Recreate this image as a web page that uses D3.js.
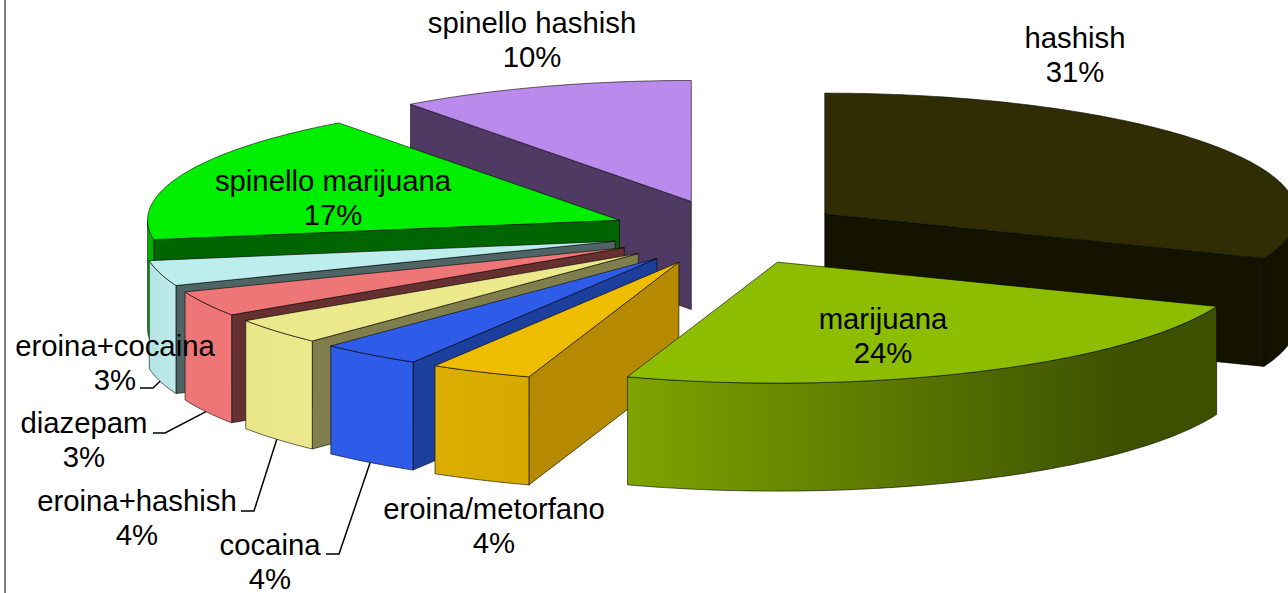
<!DOCTYPE html>
<html>
<head>
<meta charset="utf-8">
<script src="https://cdn.jsdelivr.net/npm/d3@7"></script>
<style>
  html, body { margin: 0; padding: 0; background: #fff; overflow: hidden; }
  text { font-family: "Liberation Sans", Arial, sans-serif; font-size: 29.3px; fill: #000; text-anchor: middle; }
</style>
</head>
<body>
<div id="chart"></div>
<script>
// shares, the printed labels are these values rounded
const categories = ["hashish", "marijuana", "eroina/metorfano", "cocaina", "eroina+hashish", "diazepam", "eroina+cocaina", "spinello marijuana", "spinello hashish"];
const values = [31.0, 24.2, 3.5, 3.5, 3.5, 3.4, 3.4, 17.45, 10.15];

const topColors = ["#302c04", "#8cbd00", "#eebd00", "#2e5ce8", "#ece98c", "#ee7676", "#beeded", "#00ee00", "#ba8aec"];
const radialColors = ["#131300", "#3d5000", "#b68a00", "#1c3f9e", "#807e4c", "#653030", "#4f6565", "#006400", "#4f3a63"];
const outerLeftColors = ["#131300", "#7da400", "#dbae00", "#2e5ce8", "#e9e688", "#ee7676", "#b5e2e2", "#00b000", "#4f3a63"];
const outerRightColors = ["#131300", "#3d5000", "#d6aa00", "#2e5ce8", "#ece98c", "#ee7676", "#bce9e9", "#00b000", "#4f3a63"];

const width = 1288, height = 593;
const cx = 728, cy = 232.5, rx = 472, ry = 121, depth = 108;
const explodeX = 0.248, explodeY = 0.27;

// label centre and baseline of the first line, leader stub given from the label
const labelLayout = {
  "hashish": { x: 1075, y: 48 },
  "marijuana": { x: 883, y: 329 },
  "eroina/metorfano": { x: 494, y: 519 },
  "cocaina": { x: 270, y: 555, stub: [[326, 554], [339, 554]] },
  "eroina+hashish": { x: 137, y: 511, stub: [[241, 511], [254, 511]] },
  "diazepam": { x: 84, y: 433, stub: [[153, 433], [165, 433]] },
  "eroina+cocaina": { x: 115, y: 356, stub: [[140, 388], [153, 388]] },
  "spinello marijuana": { x: 333, y: 191 },
  "spinello hashish": { x: 532, y: 33 }
};
const lineHeight = 33.5;

const x = d3.scaleLinear().domain([-1, 1]).range([cx - rx, cx + rx]);
const y = d3.scaleLinear().domain([-1, 1]).range([cy - ry, cy + ry]);

const pie = d3.pie().sort(null).value(d => d.value);
const slices = pie(categories.map((name, i) => ({ name, value: values[i], i })));

const line = d3.line();

function apex(d) {
  const mid = (d.startAngle + d.endAngle) / 2;
  return [x(explodeX * Math.sin(mid)), y(-explodeY * Math.cos(mid))];
}

// point on the rim of a slice, angle clockwise from 12 o'clock
function rim(d, a) {
  const p = apex(d);
  return [p[0] + x(Math.sin(a)) - cx, p[1] + y(-Math.cos(a)) - cy];
}

function rimPoints(d, a0, a1) {
  const n = Math.max(2, Math.ceil((a1 - a0) * 60));
  return d3.range(n + 1).map(k => rim(d, a0 + (a1 - a0) * k / n));
}

const down = pts => pts.map(p => [p[0], p[1] + depth]);

const svg = d3.select("#chart").append("svg")
  .attr("width", width)
  .attr("height", height)
  .style("display", "block");

// frame of the original picture, only the left side shows
svg.append("line")
  .attr("x1", 5).attr("x2", 5)
  .attr("y1", 0).attr("y2", height)
  .attr("stroke", "#555")
  .attr("stroke-width", 1.5);

const defs = svg.append("defs");
slices.forEach(d => {
  const grad = defs.append("linearGradient").attr("id", "wall" + d.data.i);
  grad.append("stop").attr("offset", "0%").attr("stop-color", outerLeftColors[d.data.i]);
  grad.append("stop").attr("offset", "85%").attr("stop-color", outerRightColors[d.data.i]);
});

// paint from the back to the front
const lowest = d => d3.max(rimPoints(d, d.startAngle, d.endAngle).concat([apex(d)]), p => p[1]);
const ordered = slices.slice().sort((a, b) => lowest(a) - lowest(b));

const edge = { stroke: "#000", "stroke-width": 0.9, "stroke-opacity": 0.65, "stroke-linejoin": "round" };

function drawFace(g, pts, fill) {
  const path = g.append("path").attr("d", line(pts) + "Z").attr("fill", fill);
  Object.entries(edge).forEach(([k, v]) => path.attr(k, v));
}

ordered.forEach(d => {
  const g = svg.append("g").attr("class", "slice");
  const i = d.data.i;
  const c = apex(d);

  // radial walls that face the viewer
  if (Math.sin(d.startAngle) < -1e-6) {
    const r = rim(d, d.startAngle);
    drawFace(g, [c, r, [r[0], r[1] + depth], [c[0], c[1] + depth]], radialColors[i]);
  }
  if (Math.sin(d.endAngle) > 1e-6) {
    const r = rim(d, d.endAngle);
    drawFace(g, [c, r, [r[0], r[1] + depth], [c[0], c[1] + depth]], radialColors[i]);
  }

  // outer wall, front half of the ellipse only
  const a0 = Math.max(d.startAngle, Math.PI / 2);
  const a1 = Math.min(d.endAngle, Math.PI * 1.5);
  if (a1 > a0) {
    const arc = rimPoints(d, a0, a1);
    drawFace(g, arc.concat(down(arc).reverse()), "url(#wall" + i + ")");
  }

  // top face
  drawFace(g, [c].concat(rimPoints(d, d.startAngle, d.endAngle)), topColors[i]);
});

// leaders and labels go above the slices
slices.forEach(d => {
  const layout = labelLayout[d.data.name];
  if (layout.stub) {
    const mid = (d.startAngle + d.endAngle) / 2;
    const end = rim(d, mid);
    svg.append("path")
      .attr("d", line(layout.stub.concat([[end[0], end[1] + depth]])))
      .attr("fill", "none")
      .attr("stroke", "#000")
      .attr("stroke-width", 1.5);
  }
  const t = svg.append("text").attr("x", layout.x).attr("y", layout.y);
  t.append("tspan").attr("x", layout.x).text(d.data.name);
  t.append("tspan").attr("x", layout.x).attr("dy", lineHeight).text(Math.round(d.value) + "%");
});
</script>
</body>
</html>
